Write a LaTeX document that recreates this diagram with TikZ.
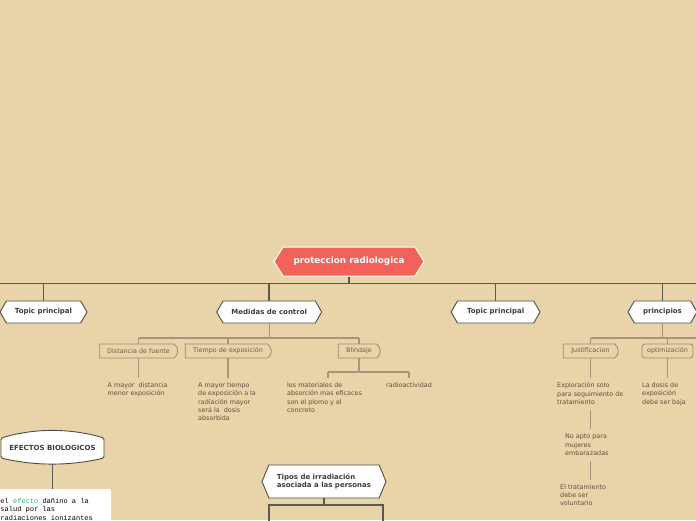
\documentclass[tikz,border=0pt]{standalone}
\usepackage{fontspec}
\setmainfont{DejaVu Sans}
\newfontfamily\monof{Liberation Mono}
\usetikzlibrary{shapes.symbols,shapes.misc}
\definecolor{bg}{HTML}{E9D4A9}
\definecolor{rootred}{HTML}{F2625A}
\definecolor{hexborder}{HTML}{4F4C48}
\definecolor{hextext}{HTML}{3C3C3C}
\definecolor{mainc}{HTML}{5C5852}
\definecolor{childc}{HTML}{A3967C}
\definecolor{pillborder}{HTML}{9A8A70}
\definecolor{pilltext}{HTML}{6A5C47}
\definecolor{leaftext}{HTML}{5C4F3D}
\definecolor{efgreen}{HTML}{2DB56A}
\newcommand\smallf{\fontsize{6.4}{8.33}\selectfont}
\tikzset{
  hexnode/.style={signal, signal to=west and east, signal pointer angle=120, draw=hexborder, line width=0.9pt, fill=white, minimum height=22, inner sep=0, font=\fontsize{7}{8}\selectfont\bfseries, text=hextext},
  rootnode/.style={signal, signal to=west and east, signal pointer angle=116, draw=white, line width=1pt, fill=rootred, minimum height=29, minimum width=150, inner sep=0, font=\fontsize{8.8}{10}\selectfont\bfseries, text=white},
  pillbox/.style={rounded rectangle, rounded rectangle left arc=none, rounded rectangle arc length=110, draw=pillborder, line width=0.8pt, fill=bg, minimum height=14, inner sep=0, font=\smallf, text=pilltext},
  plainbox/.style={rectangle, rounded corners=3pt, draw=pillborder, line width=0.8pt, fill=bg, minimum height=14, inner sep=0, font=\smallf, text=pilltext},
  leaf/.style={anchor=north west, align=left, inner sep=0, font=\smallf, text=leaftext},
  mainline/.style={draw=mainc, line width=1.7pt},
  childline/.style={draw=childc, line width=1.1pt},
  darkline/.style={draw=mainc, line width=1.1pt},
}
\begin{document}
\begin{tikzpicture}[x=1pt,y=-1pt]
\fill[bg] (0,0) rectangle (696,520);
\useasboundingbox (0,0) rectangle (696,520);
\clip (0,0) rectangle (696,520);

% main bar
\coordinate (barL) at (0,283.5);
\coordinate (barR) at (696,283.5);
\draw[mainline] (barL) -- (barR);
\node[rootnode] (root) at (349,261.5) {proteccion radiologica};
\draw[mainline] (root.south) -- (root.south |- barL);

\node[hexnode, minimum width=87] (t1) at (43.5,312) {Topic principal};
\node[hexnode, minimum width=105] (med) at (269.2,312) {Medidas de control};
\node[hexnode, minimum width=89] (t2) at (495.6,312) {Topic principal};
\node[hexnode, minimum width=69] (prin) at (662.5,312) {principios};
\foreach \n in {t1,med,t2,prin}{\draw[mainline] (\n.north |- barL) -- (\n.north);}

% Medidas de control
\coordinate (mbar) at (0,338);
\node[pillbox, minimum width=78] (dist) at (138.5,351) {Distancia de fuente\hspace{8pt}};
\node[pillbox, minimum width=86] (tiem) at (228,351) {Tiempo de exposición\hspace{9pt}};
\node[pillbox, minimum width=42] (blin) at (359,351) {Blindaje\hspace{7pt}};
\draw[childline] (med.south) -- (med.south |- mbar);
\draw[childline] (dist.north |- mbar) -- (blin.north |- mbar);
\foreach \n in {dist,tiem,blin}{\draw[childline] (\n.north |- mbar) -- (\n.north);}

\node[leaf] (l1) at (107.5,382.5) {A mayor\ \ distancia\\menor exposición};
\node[leaf] (l2) at (198,382.5) {A mayor tiempo\\de exposición a la\\radiación mayor\\será la\ \ dosis\\absorbida};
\node[leaf] (l3) at (287,382.5) {los materiales de\\absorción mas eficaces\\son el plomo y el\\concreto};
\node[leaf] (l4) at (386,382.5) {radioactividad};
\draw[childline, shorten >=4.5pt] (dist.south) -- (dist.south |- l1.north);
\draw[childline, shorten >=4.5pt] (tiem.south) -- (tiem.south |- l2.north);
\coordinate (b1) at (328,372);
\coordinate (b2) at (409,372);
\draw[childline] (blin.south) -- (blin.south |- b1);
\draw[childline] (b1) -- (b2);
\draw[childline, shorten >=4.5pt] (b1) -- (b1 |- l3.north);
\draw[childline, shorten >=4.5pt] (b2) -- (b2 |- l4.north);

% principios
\coordinate (pbar) at (0,338);
\coordinate (pbarR) at (696,338);
\node[pillbox, minimum width=55] (just) at (590.5,351) {Justificacion\hspace{8pt}};
\node[plainbox, minimum width=51] (opt) at (667.5,351) {optimización};
\draw[childline] (prin.south) -- (prin.south |- pbar);
\draw[childline] (just.north |- pbar) -- (pbarR);
\foreach \n in {just,opt}{\draw[childline] (\n.north |- pbar) -- (\n.north);}

\node[leaf] (l5) at (557,382.5) {Exploración solo\\para seguimiento de\\tratamiento};
\node[leaf] (l6) at (565,434) {No apto para\\mujeres\\embarazadas};
\node[leaf] (l7) at (560,484) {El tratamiento\\debe ser\\voluntario};
\node[leaf] (l8) at (642,382.5) {La dosis de\\exposición\\debe ser baja};
\draw[childline, shorten >=4.5pt] (just.south) -- (just.south |- l5.north);
\draw[childline, shorten <=5pt, shorten >=5pt] (just.south |- l5.south) -- (just.south |- l6.north);
\draw[childline, shorten <=5pt, shorten >=4pt] (just.south |- l6.south) -- (just.south |- l7.north);
\draw[childline, shorten >=4.5pt] (opt.south) -- (opt.south |- l8.north);

% EFECTOS BIOLOGICOS
\draw[draw=hexborder, line width=0.9pt, fill=white, rounded corners=1.5pt]
  (1,438) .. controls (35,428) and (70,428) .. (104,438) -- (104,458)
  .. controls (70,466) and (35,466) .. (1,458) -- cycle;
\node[minimum width=103, minimum height=32, inner sep=0, font=\fontsize{7}{8}\selectfont\bfseries, text=hextext] (efec) at (52.5,448) {EFECTOS BIOLOGICOS};
\node[fill=white, anchor=north west, inner sep=0, minimum width=120, minimum height=60, rounded corners=2pt] (desc) at (-9,489) {};
\draw[darkline] (efec.south) -- (efec.south |- desc.north);
\node[anchor=north west, align=left, inner sep=0, font=\monof\fontsize{7}{8.4}\selectfont, text=black] (desctext) at (0.3,498) {el {\color{efgreen}efecto} dañino a la\\salud por las\\radiaciones ionizantes};

% Tipos de irradiacion
\node[hexnode, signal pointer angle=135, minimum width=124, minimum height=33, align=left] (tipos) at (324,481.5) {Tipos de irradiación\\asociada a las personas};
\coordinate (tbar) at (0,505);
\coordinate (tL) at (269,505);
\coordinate (tR) at (383,505);
\coordinate (tLd) at (269,530);
\coordinate (tRd) at (383,530);
\draw[darkline] (tipos.south) -- (tipos.south |- tbar);
\draw[darkline] (tLd) -- (tL) -- (tR) -- (tRd);
\end{tikzpicture}
\end{document}
